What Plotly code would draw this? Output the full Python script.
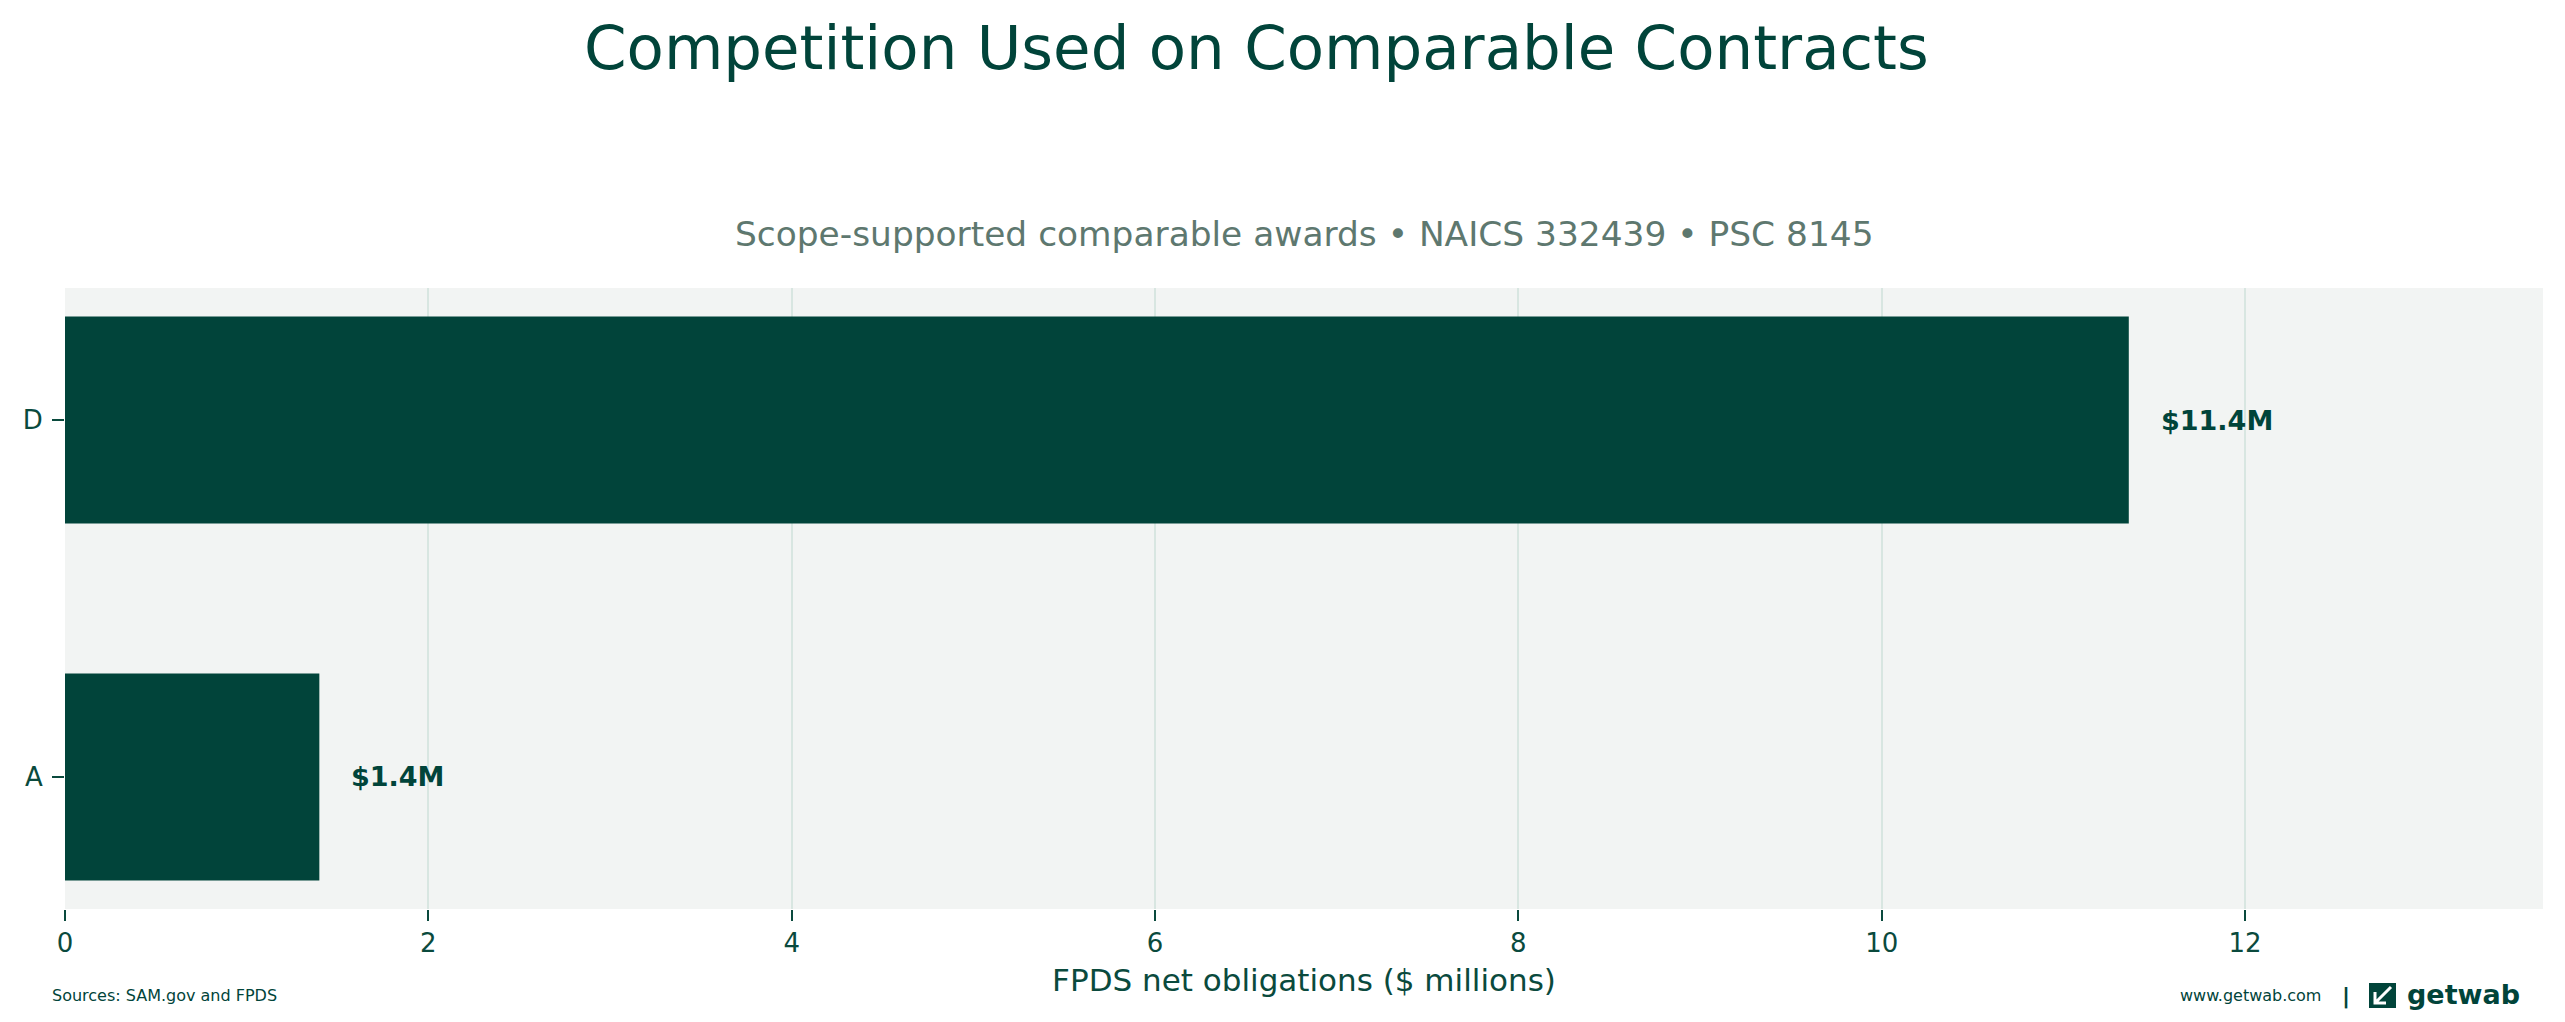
import plotly.graph_objects as go

# ---- data ----
categories = ["A", "D"]
values = [1.40, 11.36]
value_labels = ["$1.4M", "$11.4M"]
x_ticks = [0, 2, 4, 6, 8, 10, 12]
x_tick_labels = ["0", "2", "4", "6", "8", "10", "12"]

title_text = "Competition Used on Comparable Contracts"
subtitle_text = "Scope-supported comparable awards \u2022 NAICS 332439 \u2022 PSC 8145"
x_title = "FPDS net obligations ($ millions)"
source_text = "Sources: SAM.gov and FPDS"
site_text = "www.getwab.com"
brand_text = "getwab"

# ---- style ----
OFF = 8  # page body margin
W, H = 2565 - OFF, 1022 - OFF
ML, MR, MT, MB = 65 - OFF, 22, 288 - OFF, 113
PW = W - ML - MR
PH = H - MT - MB
DARK = "#01443A"
TEXT = "#0A4A3D"
SUB = "#5E786F"
BG = "#F2F4F3"
GRID = "#D8E6E1"
FONT = "DejaVu Sans"


def px_x(px):
    # px given in page coordinates
    return (px - OFF - ML) / PW


def px_y(py):
    return (H - MB - (py - OFF)) / PH


fig = go.Figure()
fig.add_trace(go.Bar(
    x=values, y=categories, orientation="h",
    marker=dict(color=DARK, line=dict(width=0)),
    width=0.58, hoverinfo="skip",
))

annotations = []
for c, v, lab in zip(categories, values, value_labels):
    annotations.append(dict(
        x=v, y=c, xref="x", yref="y", text="<b>" + lab + "</b>",
        showarrow=False, xanchor="left", yanchor="middle", xshift=30,
        font=dict(family=FONT, size=27, color=DARK),
    ))

annotations += [
    dict(x=px_x(1256), y=px_y(47), xref="paper", yref="paper", text=title_text,
         showarrow=False, xanchor="center", yanchor="middle",
         font=dict(family=FONT, size=61, color=DARK)),
    dict(x=0.5, y=px_y(234), xref="paper", yref="paper", text=subtitle_text,
         showarrow=False, xanchor="center", yanchor="middle",
         font=dict(family=FONT, size=34.4, color=SUB)),
    dict(x=px_x(50), y=px_y(995), xref="paper", yref="paper", text=source_text,
         showarrow=False, xanchor="left", yanchor="middle",
         font=dict(family=FONT, size=16, color=DARK)),
    dict(x=px_x(2323), y=px_y(995), xref="paper", yref="paper", text=site_text,
         showarrow=False, xanchor="right", yanchor="middle",
         font=dict(family=FONT, size=16, color=DARK)),
    dict(x=px_x(2346), y=px_y(996), xref="paper", yref="paper", text="<b>|</b>",
         showarrow=False, xanchor="center", yanchor="middle",
         font=dict(family=FONT, size=22, color=DARK)),
    dict(x=px_x(2405), y=px_y(994), xref="paper", yref="paper", text="<b>" + brand_text + "</b>",
         showarrow=False, xanchor="left", yanchor="middle",
         font=dict(family=FONT, size=27, color=DARK)),
]

shapes = [
    dict(type="rect", xref="paper", yref="paper",
         x0=px_x(2369), x1=px_x(2396), y0=px_y(1008), y1=px_y(983),
         fillcolor=DARK, line=dict(width=0), layer="above"),
    dict(type="path", xref="paper", yref="paper",
         path=(f"M {px_x(2391)},{px_y(987)} L {px_x(2376)},{px_y(1002)} "
               f"M {px_x(2375)},{px_y(992)} L {px_x(2375)},{px_y(1003)} L {px_x(2386)},{px_y(1003)}"),
         line=dict(color="white", width=3), layer="above"),
]

fig.update_layout(
    width=W, height=H,
    margin=dict(l=ML, r=MR, t=MT, b=MB, pad=0),
    paper_bgcolor="white", plot_bgcolor=BG,
    showlegend=False,
    font=dict(family=FONT, color=TEXT),
    annotations=annotations, shapes=shapes,
    xaxis=dict(
        range=[0, 13.64], tickvals=x_ticks, ticktext=x_tick_labels,
        showgrid=True, gridcolor=GRID, gridwidth=2,
        zeroline=False, showline=False,
        ticks="outside", ticklen=11, tickwidth=2, tickcolor=TEXT,
        tickfont=dict(family=FONT, size=26, color=TEXT),
        title=dict(text=x_title, font=dict(family=FONT, size=31, color=TEXT), standoff=12),
    ),
    yaxis=dict(
        type="category", categoryorder="array", categoryarray=categories,
        range=[-0.37, 1.37],
        showgrid=False, zeroline=False, showline=False,
        ticks="outside", ticklen=12, tickwidth=2, tickcolor=TEXT,
        ticklabelstandoff=4,
        tickfont=dict(family=FONT, size=26, color=TEXT),
    ),
)

fig.write_html("out.html")
